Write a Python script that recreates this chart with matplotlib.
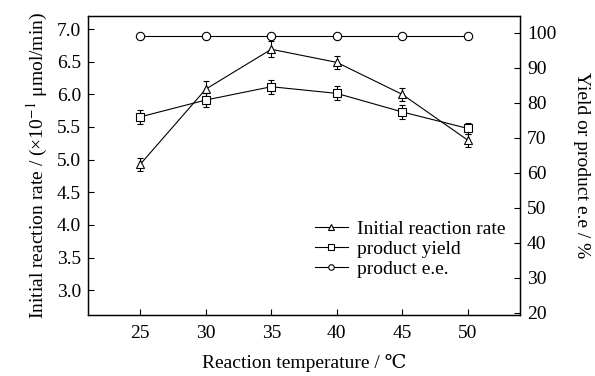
import numpy as np
import matplotlib.pyplot as plt
from matplotlib.lines import Line2D

plt.rcParams['font.family'] = ['Liberation Serif', 'DejaVu Serif']
plt.rcParams['mathtext.fontset'] = 'stix'

temps = [25, 30, 35, 40, 45, 50]
rate = [4.93, 6.08, 6.69, 6.49, 6.00, 5.30]
rate_err = [0.10, 0.12, 0.12, 0.10, 0.10, 0.10]
yield_pct = [76.0, 80.8, 84.6, 82.7, 77.4, 72.7]
yield_err = [2.0, 2.0, 2.0, 2.0, 2.0, 1.5]
ee_pct = [99.0, 99.0, 99.0, 99.0, 99.0, 99.0]
ee_err = [0.8, 0.8, 0.8, 0.8, 0.8, 0.8]

left_ticks = [3.0, 3.5, 4.0, 4.5, 5.0, 5.5, 6.0, 6.5, 7.0]
right_ticks = [20, 30, 40, 50, 60, 70, 80, 90, 100]

fig = plt.figure(figsize=(5.95, 3.76), dpi=100)
ax = fig.add_axes([88 / 595, 1 - 315 / 376, 432 / 595, 299 / 376])
ax2 = ax.twinx()

style = dict(color='black', lw=0.8, ms=6, mfc='white', mew=0.8,
             elinewidth=0.8, capsize=2, capthick=0.8)
ax.errorbar(temps, rate, yerr=rate_err, marker='^', **style)
ax2.errorbar(temps, yield_pct, yerr=yield_err, marker='s', **dict(style, ms=5.5))
ax2.errorbar(temps, ee_pct, yerr=ee_err, marker='o', **style)

ax.set_xlim(21, 54)
ax.set_ylim(2.62, 7.2)
ax2.set_ylim(19.4, 104.8)
ax.set_xticks(temps)
ax.set_yticks(left_ticks)
ax.set_yticklabels([f'{v:.1f}' for v in left_ticks])
ax2.set_yticks(right_ticks)

for a in (ax, ax2):
    a.tick_params(direction='in', length=4, width=0.8, labelsize=14, pad=5)
    for s in a.spines.values():
        s.set_linewidth(0.9)
ax.tick_params(axis='x', pad=7)

ax.set_xlabel('Reaction temperature / ℃', fontsize=14, labelpad=9)
ax.set_ylabel('Initial reaction rate / (×10$^{-1}$ μmol/min)', fontsize=14, labelpad=5)
ax2.set_ylabel('Yield or product e.e / %', fontsize=14, rotation=270, labelpad=24)

handles = [Line2D([], [], color='black', lw=0.8, marker=m, ms=4, mfc='white', mew=0.8)
           for m in ('^', 's', 'o')]
ax2.legend(handles, ['Initial reaction rate', 'product yield', 'product e.e.'],
           loc='upper left', bbox_to_anchor=(0.525, 0.318), frameon=False,
           fontsize=14, handlelength=1.7, handletextpad=0.45, labelspacing=0.13,
           borderaxespad=0, borderpad=0)

fig.savefig('out.png', dpi=100)
